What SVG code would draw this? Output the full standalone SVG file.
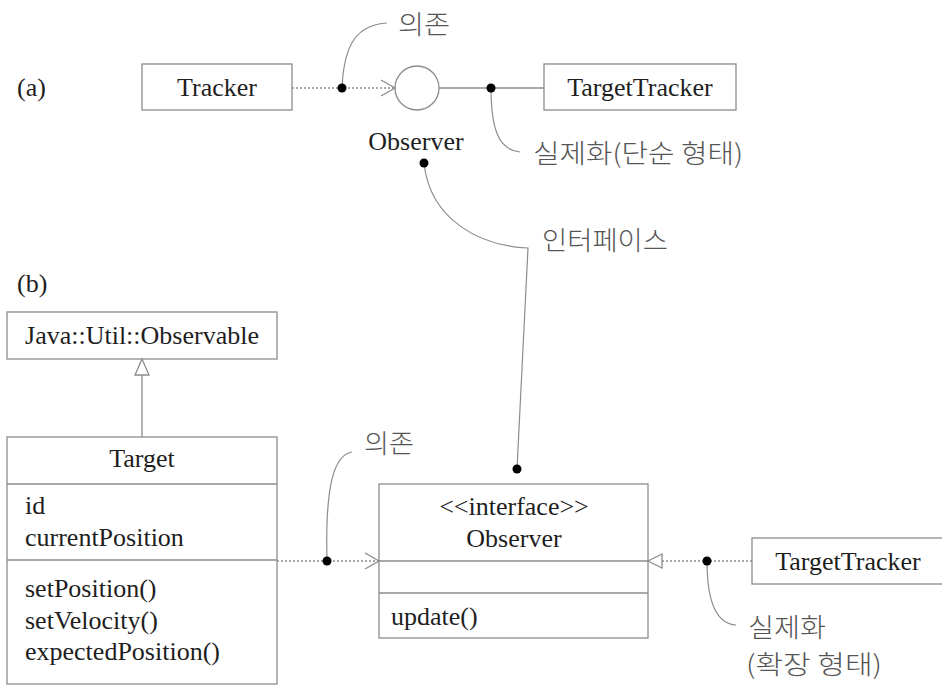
<svg xmlns="http://www.w3.org/2000/svg" width="942" height="685" viewBox="0 0 942 685">
  <style>
    .box { fill: #ffffff; stroke: #8c8c8c; stroke-width: 1.3; }
    .sep { stroke: #8c8c8c; stroke-width: 1.3; fill: none; }
    .en { font-family: "Liberation Serif", "Times New Roman", serif; font-size: 26px; fill: #1e1e1e; }
    .mid { text-anchor: middle; }
    .ko { font-family: "Noto Sans CJK KR", "Noto Sans", sans-serif; font-size: 26px; font-weight: 300; fill: #555555; }
    .dep { stroke: #8c8c8c; stroke-width: 1.3; stroke-dasharray: 2 2; fill: none; }
    .solid { stroke: #8c8c8c; stroke-width: 1.3; fill: none; }
    .note { stroke: #8c8c8c; stroke-width: 1.2; fill: none; }
    .dot { fill: #000000; }
    .open { stroke: #8c8c8c; stroke-width: 1.3; fill: none; }
    .hollow { stroke: #8c8c8c; stroke-width: 1.3; fill: #ffffff; }
  </style>

  <rect width="942" height="685" fill="#ffffff"/>

  <!-- section labels -->
  <text class="en" x="17" y="96">(a)</text>
  <text class="en" x="17" y="292">(b)</text>

  <!-- (a) lollipop notation -->
  <g id="tracker-a">
    <rect class="box" x="142" y="64" width="150" height="46"/>
    <text class="en mid" x="217" y="96">Tracker</text>
  </g>
  <g id="observer-lollipop">
    <circle class="box" cx="417" cy="88" r="22"/>
    <text class="en mid" x="416" y="150">Observer</text>
  </g>
  <g id="targettracker-a">
    <rect class="box" x="544" y="64" width="192" height="46"/>
    <text class="en mid" x="640" y="96">TargetTracker</text>
  </g>

  <!-- (b) class notation -->
  <g id="observable">
    <rect class="box" x="7" y="312" width="270" height="47"/>
    <text class="en mid" x="142" y="344">Java::Util::Observable</text>
  </g>
  <g id="target">
    <rect class="box" x="7" y="437" width="270" height="247"/>
    <line class="sep" x1="7" y1="484" x2="277" y2="484"/>
    <line class="sep" x1="7" y1="560" x2="277" y2="560"/>
    <text class="en mid" x="142" y="467">Target</text>
    <text class="en" x="25" y="514">id</text>
    <text class="en" x="25" y="546">currentPosition</text>
    <text class="en" x="25" y="597">setPosition()</text>
    <text class="en" x="25" y="629">setVelocity()</text>
    <text class="en" x="25" y="660">expectedPosition()</text>
  </g>
  <g id="observer-interface">
    <rect class="box" x="379" y="484" width="269" height="154"/>
    <line class="sep" x1="379" y1="561" x2="648" y2="561"/>
    <line class="sep" x1="379" y1="593" x2="648" y2="593"/>
    <text class="en mid" x="514" y="515">&lt;&lt;interface&gt;&gt;</text>
    <text class="en mid" x="514" y="547">Observer</text>
    <text class="en" x="391" y="625">update()</text>
  </g>
  <g id="targettracker-b">
    <rect class="box" x="752" y="538" width="192" height="46"/>
    <text class="en mid" x="848" y="570">TargetTracker</text>
  </g>

  <!-- connectors -->
  <g id="connectors">
    <!-- (a) dependency to the lollipop -->
    <line class="dep" x1="292" y1="88" x2="394" y2="88"/>
    <polyline class="open" points="381,80 395,88 381,96"/>
    <!-- (a) realization, simple form -->
    <line class="solid" x1="439" y1="88" x2="544" y2="88"/>
    <!-- (b) generalization -->
    <line class="solid" x1="142" y1="375" x2="142" y2="437"/>
    <polygon class="hollow" points="142,359 135,375 149,375"/>
    <!-- (b) dependency -->
    <line class="dep" x1="277" y1="561" x2="378" y2="561"/>
    <polyline class="open" points="365,553 379,561 365,569"/>
    <!-- (b) realization, extended form -->
    <line class="dep" x1="662" y1="561" x2="752" y2="561"/>
    <polygon class="hollow" points="648,561 662,554 662,568"/>
  </g>

  <!-- callouts -->
  <g id="callouts">
    <path class="note" d="M342,88 C344,42 358,25 387,23"/>
    <circle class="dot" cx="342" cy="88" r="4.5"/>
    <text class="ko" x="398" y="34" textLength="52" lengthAdjust="spacingAndGlyphs">의존</text>

    <path class="note" d="M491,88 C491,132 500,150 520,152"/>
    <circle class="dot" cx="491" cy="88" r="4.5"/>
    <text class="ko" x="533" y="163" textLength="210" lengthAdjust="spacingAndGlyphs">실제화(단순 형태)</text>

    <path class="note" d="M424,163 C430,220 480,246 528,248 L517,469"/>
    <circle class="dot" cx="424" cy="163" r="4.5"/>
    <circle class="dot" cx="517" cy="469" r="4.5"/>
    <text class="ko" x="542" y="250" textLength="126" lengthAdjust="spacingAndGlyphs">인터페이스</text>

    <path class="note" d="M327,561 C325,485 334,455 352,452"/>
    <circle class="dot" cx="327" cy="561" r="4.5"/>
    <text class="ko" x="364" y="453" textLength="50" lengthAdjust="spacingAndGlyphs">의존</text>

    <path class="note" d="M707,561 C707,610 720,624 736,625"/>
    <circle class="dot" cx="707" cy="561" r="4.5"/>
    <text class="ko" x="748" y="637" textLength="78" lengthAdjust="spacingAndGlyphs">실제화</text>
    <text class="ko" x="746" y="674" textLength="136" lengthAdjust="spacingAndGlyphs">(확장 형태)</text>
  </g>
</svg>
